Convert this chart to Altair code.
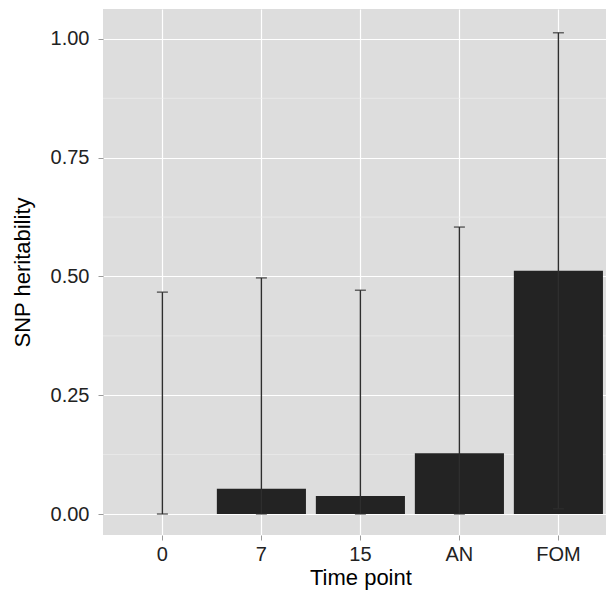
import altair as alt
import pandas as pd

categories = ["0", "7", "15", "AN", "FOM"]
heritability = [0.0, 0.053, 0.038, 0.128, 0.512]
ci_lower = [0.0, 0.0, 0.0, 0.0, 0.011]
ci_upper = [0.467, 0.497, 0.471, 0.604, 1.013]
y_ticks = [0.0, 0.25, 0.5, 0.75, 1.0]
y_minor = [0.125, 0.375, 0.625, 0.875]

df = pd.DataFrame({"tp": categories, "h": heritability, "lo": ci_lower, "hi": ci_upper})
minor_df = pd.DataFrame({"m": y_minor})

FONT = "Liberation Sans"
x_scale = alt.Scale(domain=categories, range=[0, 514.8], paddingInner=0.1, paddingOuter=0.15)
y_scale = alt.Scale(domain=[-0.0442, 1.063], nice=False, zero=False)

x_axis = alt.Axis(
    title="Time point", labelAngle=0, tickSize=5, tickColor="#9a9a9a", tickWidth=1,
    domain=False, grid=True, gridColor="#ffffff", gridWidth=1.2, bandPosition=0.5,
    labelFontSize=20, labelColor="#222222", labelPadding=4.5, labelFont=FONT,
    titleFontSize=22, titleColor="#000000", titleFontWeight="normal", titleFont=FONT,
    titlePadding=3,
)
y_axis = alt.Axis(
    title="SNP heritability", values=y_ticks, format=".2f", tickSize=5, tickColor="#9a9a9a",
    tickWidth=1, domain=False, grid=True, gridColor="#ffffff", gridWidth=1.2,
    labelFontSize=20, labelColor="#222222", labelPadding=9, labelFont=FONT,
    titleFontSize=22, titleColor="#000000", titleFontWeight="normal", titleFont=FONT,
    titlePadding=16,
)

X = alt.X("tp:N", scale=x_scale, axis=x_axis, sort=categories)

minor = alt.Chart(minor_df).mark_rule(color="#eeeeee", strokeWidth=0.7).encode(
    y=alt.Y("m:Q", scale=y_scale, axis=y_axis)
)
base = alt.Chart(df)
bars = base.mark_bar(color="#232323").encode(
    x=X, y=alt.Y("h:Q", scale=y_scale, axis=y_axis)
)
err = base.mark_rule(color="#2e2e2e", strokeWidth=1.4).encode(
    x=X, y=alt.Y("lo:Q", scale=y_scale, axis=y_axis), y2="hi:Q"
)
cap_lo = base.mark_tick(color="#2e2e2e", size=11, thickness=1.5).encode(
    x=X, y=alt.Y("lo:Q", scale=y_scale, axis=y_axis)
)
cap_hi = base.mark_tick(color="#2e2e2e", size=11, thickness=1.5).encode(
    x=X, y=alt.Y("hi:Q", scale=y_scale, axis=y_axis)
)

chart = alt.layer(minor, bars, err, cap_lo, cap_hi).properties(
    width=503, height=526,
    autosize=alt.AutoSizeParams(type="none"),
    padding={"left": 95, "top": 1, "right": 0, "bottom": 56},
    view=alt.ViewBackground(fill="#dddddd", stroke=None),
).configure(font=FONT)

chart.save("out.html", embed_options={"renderer": "svg", "actions": False})
